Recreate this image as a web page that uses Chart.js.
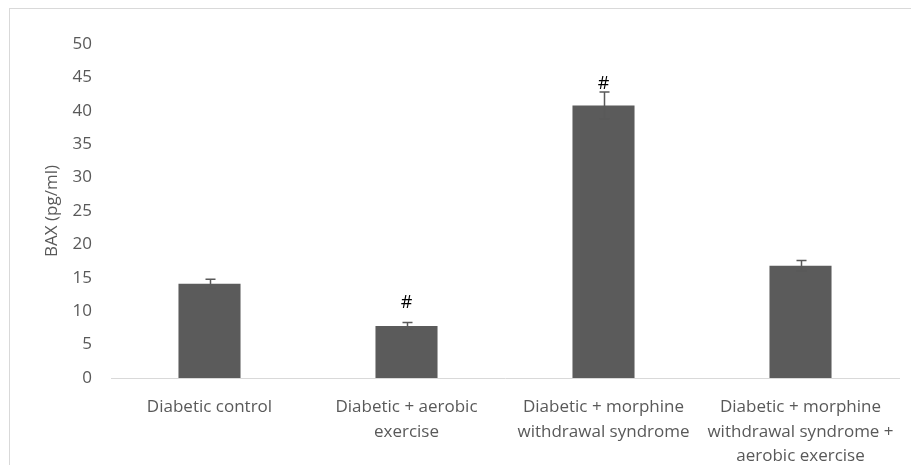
<!DOCTYPE html>
<html>
<head>
<meta charset="utf-8">
<script src="https://cdn.jsdelivr.net/npm/chart.js@4.4.1/dist/chart.umd.min.js"></script>
<style>
    html, body { margin: 0; padding: 0; background: #ffffff; }
    #wrap { position: relative; width: 911px; height: 465px; }
</style>
</head>
<body>
<div id="wrap"><canvas id="bax-chart" width="911" height="465"></canvas></div>
<script>
// values
const categories = [
    ['Diabetic control'],
    ['Diabetic + aerobic', 'exercise'],
    ['Diabetic + morphine', 'withdrawal syndrome'],
    ['Diabetic + morphine', 'withdrawal syndrome +', 'aerobic exercise'],
];
const baxValues = [14.1, 7.8, 40.8, 16.8];
const baxErrors = [0.7, 0.5, 2.0, 0.8];
const sigMarks = ['', '#', '#', ''];
const sigLevels = [null, 11.2, 44.0, null];
const yTicks = [0, 5, 10, 15, 20, 25, 30, 35, 40, 45, 50];

const textGray = '#595959';
const fontFamily = '"Open Sans", "Noto Sans", sans-serif';

// light frame round the chart, open to the right and bottom
const framePlugin = {
    id: 'frame',
    beforeDraw(chart) {
        const ctx = chart.ctx;
        ctx.save();
        ctx.strokeStyle = '#d9d9d9';
        ctx.lineWidth = 1;
        ctx.strokeRect(9.5, 8.5, 1000, 1000);
        ctx.restore();
    },
};

const errorBarPlugin = {
    id: 'errorBars',
    afterDatasetsDraw(chart) {
        const ctx = chart.ctx;
        const yScale = chart.scales.y;
        const meta = chart.getDatasetMeta(0);
        ctx.save();
        ctx.strokeStyle = '#595959';
        ctx.lineWidth = 1.5;
        meta.data.forEach((bar, i) => {
            const top = yScale.getPixelForValue(baxValues[i] + baxErrors[i]);
            const bottom = yScale.getPixelForValue(baxValues[i] - baxErrors[i]);
            const x = Math.round(bar.x) + 0.5;
            ctx.beginPath();
            ctx.moveTo(x, top);
            ctx.lineTo(x, bottom);
            ctx.moveTo(x - 5, top);
            ctx.lineTo(x + 5, top);
            ctx.moveTo(x - 5, bottom);
            ctx.lineTo(x + 5, bottom);
            ctx.stroke();
        });

        ctx.fillStyle = '#000000';
        ctx.font = '18px ' + fontFamily;
        ctx.textAlign = 'center';
        ctx.textBaseline = 'middle';
        meta.data.forEach((bar, i) => {
            if (!sigMarks[i]) {
                return;
            }
            ctx.fillText(sigMarks[i], bar.x, yScale.getPixelForValue(sigLevels[i]));
        });
        ctx.restore();
    },
};

new Chart(document.getElementById('bax-chart'), {
    type: 'bar',
    data: {
        labels: categories,
        datasets: [
            {
                label: 'BAX',
                data: baxValues,
                backgroundColor: '#5b5b5b',
                borderWidth: 0,
                barPercentage: 0.315,
                categoryPercentage: 1,
            },
        ],
    },
    options: {
        responsive: false,
        animation: false,
        devicePixelRatio: 1,
        layout: { padding: { top: 44, right: 12, left: 10, bottom: 0 } },
        plugins: {
            legend: { display: false },
            tooltip: { enabled: false },
        },
        scales: {
            x: {
                grid: { display: false },
                border: { display: true, color: '#d9d9d9', width: 1 },
                ticks: {
                    color: textGray,
                    font: { family: fontFamily, size: 17, lineHeight: 1.45 },
                    padding: 9,
                    maxRotation: 0,
                    autoSkip: false,
                },
                afterFit(scale) {
                    scale.height = 87;
                },
            },
            y: {
                min: 0,
                max: 50,
                grid: { display: false },
                border: { display: false },
                afterBuildTicks(scale) {
                    scale.ticks = yTicks.map((v) => ({ value: v }));
                },
                ticks: {
                    color: textGray,
                    font: { family: fontFamily, size: 17 },
                    padding: 11,
                },
                title: {
                    display: true,
                    text: 'BAX (pg/ml)',
                    color: textGray,
                    font: { family: fontFamily, size: 17 },
                    padding: { top: 32, bottom: 0 },
                },
                afterFit(scale) {
                    scale.width = 101;
                },
            },
        },
    },
    plugins: [framePlugin, errorBarPlugin],
});
</script>
</body>
</html>
